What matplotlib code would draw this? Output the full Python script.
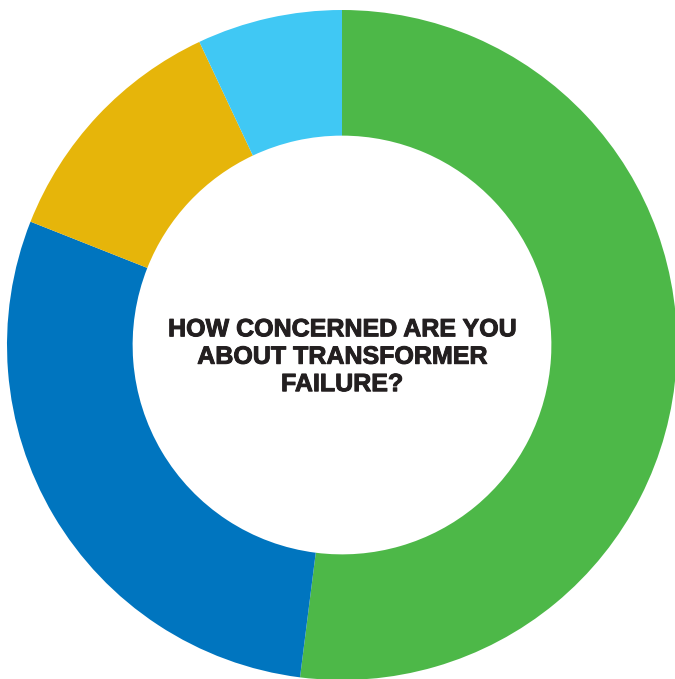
import matplotlib
matplotlib.use("Agg")
import matplotlib.pyplot as plt
import matplotlib.patheffects as pe

# survey answers, clockwise from 12 o'clock
labels = ["Very concerned", "Somewhat concerned", "Not very concerned", "Not at all concerned"]
shares = [52, 29, 12, 7]
colors = ["#4db848", "#0075bf", "#e6b50a", "#40c8f4"]
title = "HOW CONCERNED ARE YOU\nABOUT TRANSFORMER\nFAILURE?"

fig = plt.figure(figsize=(6.75, 6.79), dpi=100)
ax = fig.add_axes([0, 0, 1, 1])
ax.pie(shares, colors=colors, startangle=90, counterclock=False, radius=1.0,
       wedgeprops=dict(width=0.375, linewidth=0))
ax.text(0, -0.035, title, ha="center", va="center", fontsize=18, fontweight="bold",
        color="#231f20", family="Liberation Sans", linespacing=1.18,
        path_effects=[pe.withStroke(linewidth=0.7, foreground="#231f20")])
r = 335.0
ax.set_xlim(-342 / r, (675 - 342) / r)
ax.set_ylim(-334 / r, 345 / r)
ax.set_aspect("auto")
ax.axis("off")
fig.savefig("out.png", dpi=100)
